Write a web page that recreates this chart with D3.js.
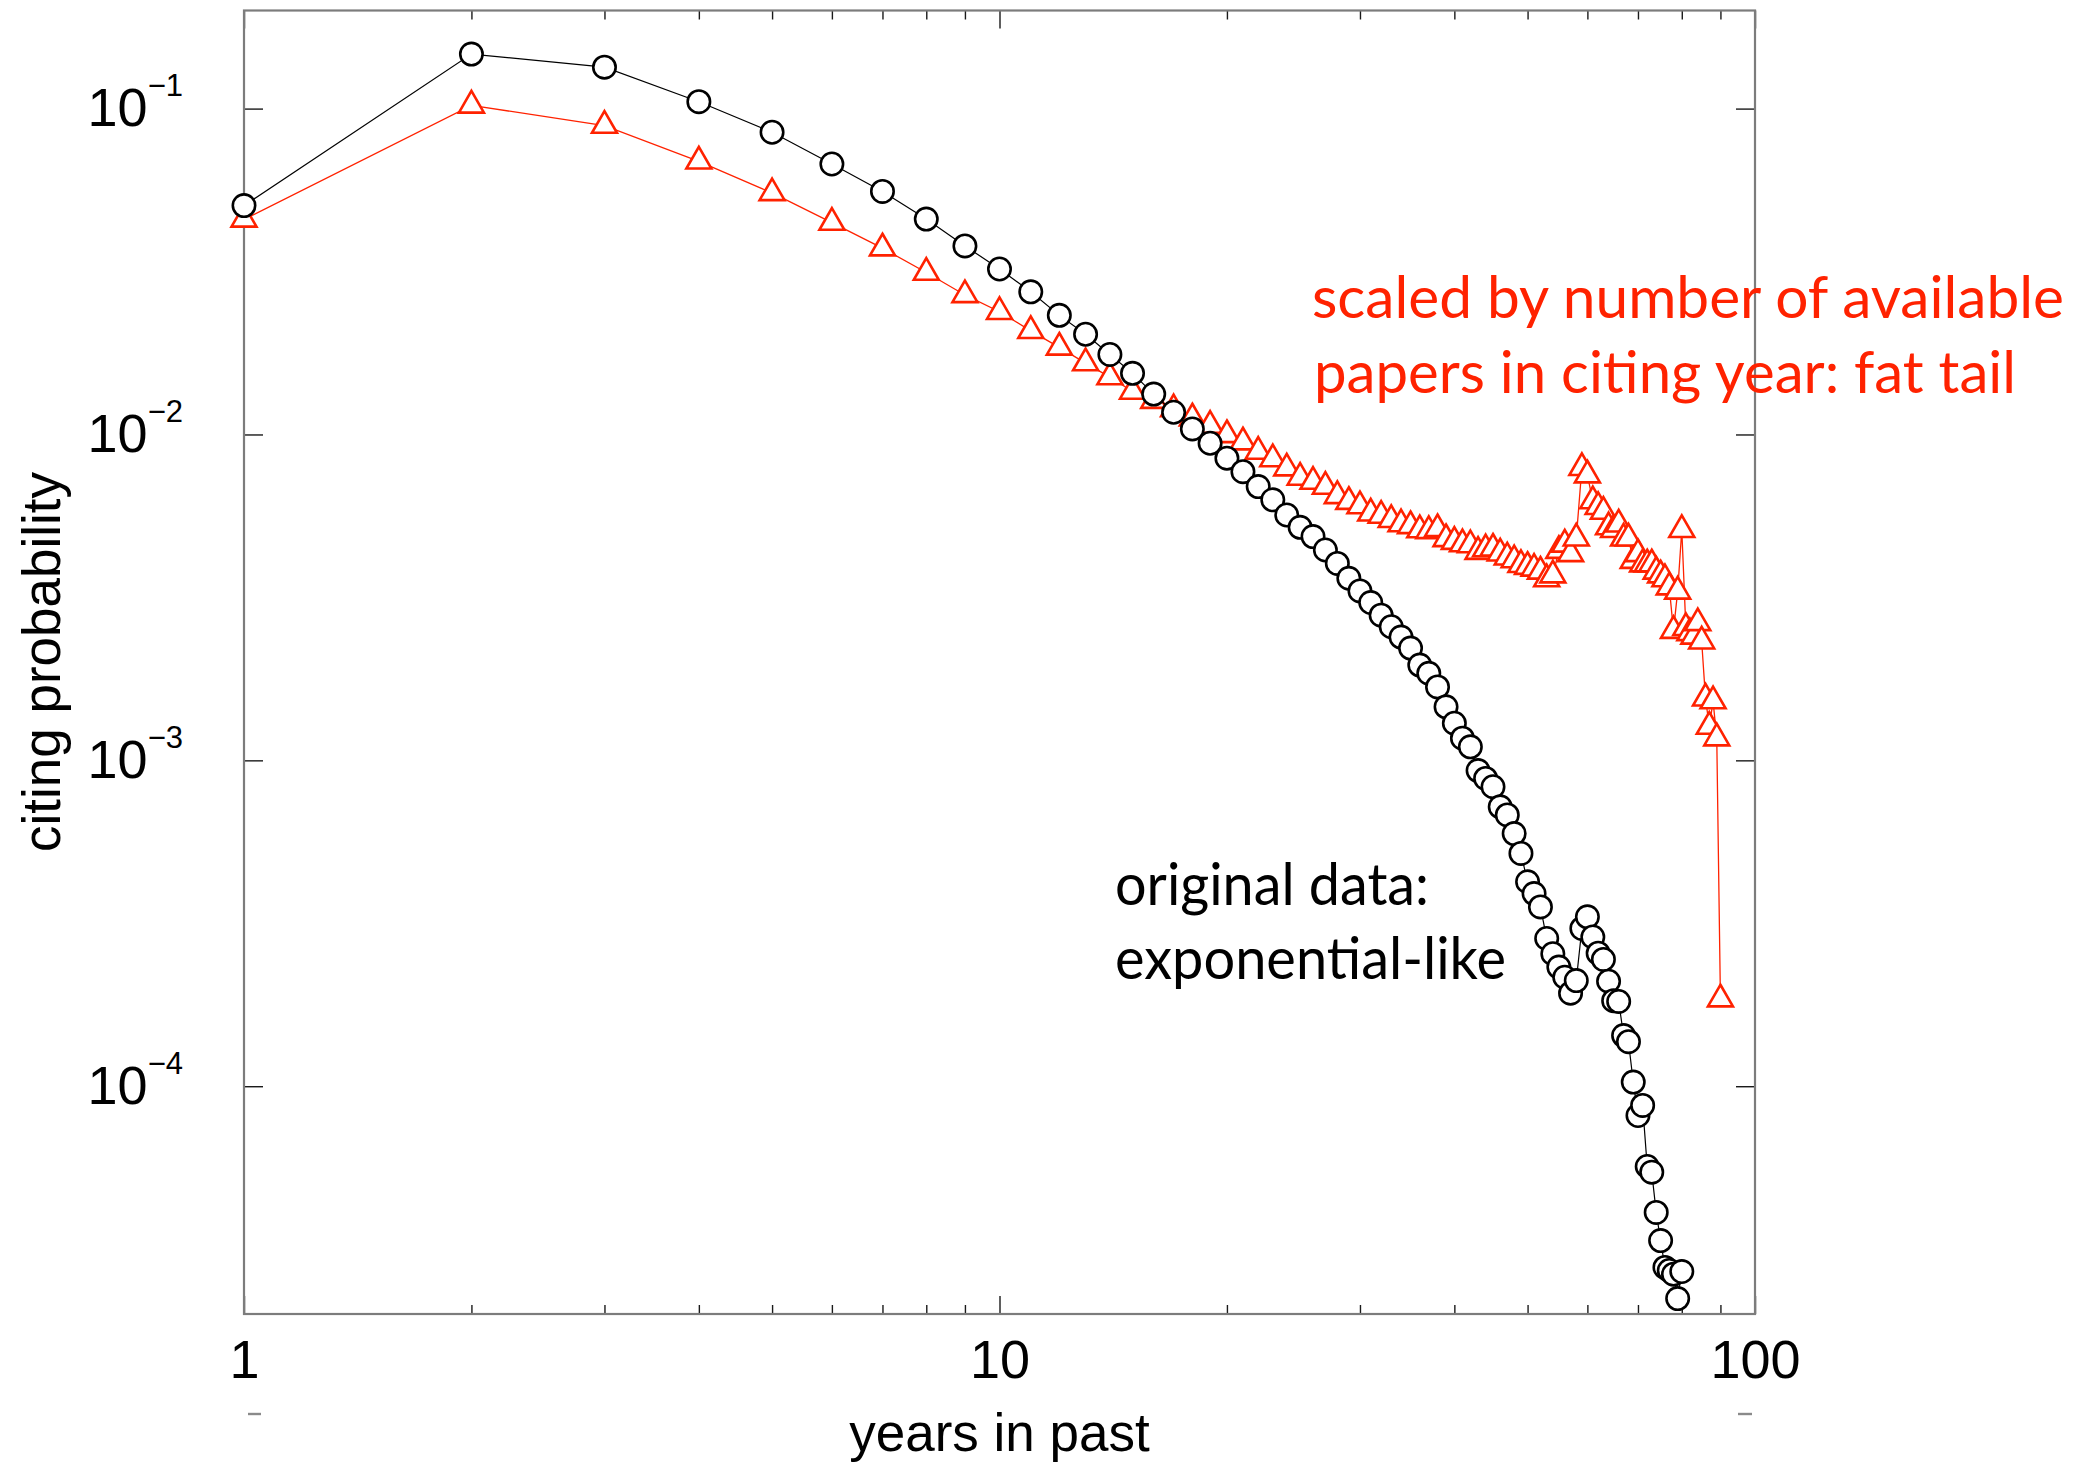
<!DOCTYPE html>
<html>
<head>
<meta charset="utf-8">
<script src="https://cdn.jsdelivr.net/npm/d3@7"></script>
<style>
  html, body { margin: 0; padding: 0; background: #ffffff; }
  svg { display: block; }
</style>
</head>
<body>
<svg id="chart" width="2088" height="1465"></svg>
<script>
// Citation age distribution: probability that a citation points to a paper N years in the past.
const originalYears = [1,2,3,4,5,6,7,8,9,10,11,12,13,14,15,16,17,18,19,20,21,22,23,24,25,26,27,28,29,30,
  31,32,33,34,35,36,37,38,39,40,41,42,43,44,45,46,47,48,49,50,51,52,53,54,55,56,57,58,59,60,
  61,62,63,64,65,66,67,68,69,70,71,72,73,74,75,76,77,78,79,80];
const originalProb = [0.0504,0.147,0.134,0.105,0.0846,0.0676,0.0557,0.0458,0.0379,0.0322,
  0.0274,0.0232,0.0203,0.0176,0.0154,0.0133,0.0117,0.0104,0.0094,0.00846,
  0.00769,0.00692,0.0063,0.00566,0.00519,0.00486,0.00442,0.00402,0.00362,0.00331,
  0.00305,0.00279,0.00257,0.00239,0.00221,0.00196,0.00185,0.00168,0.00146,0.0013,
  0.00117,0.0011,0.00093,0.00088,0.00083,0.00072,0.00068,0.000596,0.000518,0.000424,
  0.00039,0.000355,0.000284,0.000255,0.000232,0.000216,0.000193,0.000211,0.000305,0.000331,
  0.000287,0.000256,0.000245,0.00021,0.000183,0.000182,0.000143,0.000137,0.000103,0.0000813,
  0.0000873,0.0000567,0.0000545,0.000041,0.0000336,0.0000278,0.0000272,0.0000265,0.0000223,0.000027];

const scaledYears = [1,2,3,4,5,6,7,8,9,10,11,12,13,14,15,16,17,18,19,20,21,22,23,24,25,26,27,28,29,30,
  31,32,33,34,35,36,37,38,39,40,41,42,43,44,45,46,47,48,49,50,51,52,53,54,55,56,57,58,59,60,
  61,62,63,64,65,66,67,68,69,70,71,72,73,74,75,76,77,78,79,80,81,82,83,84,85,86,87,88,89,90];
const scaledProb = [0.0457,0.1023,0.0887,0.0689,0.0551,0.0447,0.0373,0.0314,0.0268,0.0238,
  0.0208,0.0185,0.01656,0.015,0.01355,0.0127,0.01197,0.01122,0.01065,0.00997,
  0.00947,0.00886,0.00841,0.00788,0.00738,0.00717,0.00692,0.00648,0.00622,0.00603,
  0.00573,0.00564,0.00547,0.00531,0.00524,0.00509,0.00506,0.00513,0.00478,0.00469,
  0.00461,0.00458,0.00437,0.00445,0.00447,0.00432,0.0042,0.00412,0.00398,0.00393,
  0.00388,0.0038,0.0036,0.0037,0.0044,0.0046,0.0043,0.0048,0.0079,0.0075,
  0.00625,0.006,0.0058,0.0052,0.0051,0.0053,0.0048,0.0048,0.0041,0.0043,
  0.004,0.004,0.004,0.0038,0.0037,0.0036,0.0034,0.0025,0.0033,0.0051,
  0.00255,0.00246,0.0024,0.00264,0.00232,0.00155,0.00127,0.00152,0.00117,0.000185];

const xTickMajor = [1, 10, 100];
const xTickMinor = [2,3,4,5,6,7,8,9,20,30,40,50,60,70,80,90];
const yTickMajor = [1e-4, 1e-3, 1e-2, 1e-1];
const yTickExponent = {"0.0001": "\u22124", "0.001": "\u22123", "0.01": "\u22122", "0.1": "\u22121"};

const xTitle = "years in past";
const yTitle = "citing probability";
const scaledNote = ["scaled by number of available", "papers in citing year: fat tail"];
const originalNote = ["original data:", "exponential-like"];

const RED = "#ff2200";
const FRAME = "#7c7c7c";
const TICK = "#1a1a1a";
const AXIS_FONT = "'Liberation Sans', Arial, Helvetica, sans-serif";
const NOTE_FONT = "Lato, 'Open Sans', sans-serif";

const plot = { left: 244, right: 1755, top: 10.5, bottom: 1314 };

const svg = d3.select("#chart");
svg.append("rect").attr("width", 2088).attr("height", 1465).attr("fill", "#ffffff");

const x = d3.scaleLog().domain([1, 100]).range([plot.left, plot.right]);
const y = d3.scaleLog().domain([2e-5, 0.2]).range([plot.bottom, plot.top]);

// tick marks on all four sides, pointing into the plot
function styleAxis(g) {
  g.select(".domain").remove();
  g.selectAll(".tick line").attr("stroke", TICK).attr("stroke-width", 1.4);
  g.selectAll(".tick text")
    .attr("fill", "#000")
    .attr("font-family", AXIS_FONT)
    .attr("font-size", 54);
}

svg.append("g").attr("transform", `translate(0,${plot.bottom})`)
  .call(d3.axisBottom(x).tickValues(xTickMinor).tickSizeInner(-9).tickSizeOuter(0).tickFormat(""))
  .call(styleAxis);
svg.append("g").attr("transform", `translate(0,${plot.bottom})`)
  .call(d3.axisBottom(x).tickValues(xTickMajor).tickSizeInner(-18).tickSizeOuter(0)
    .tickPadding(26).tickFormat(d3.format("d")))
  .call(styleAxis);
svg.append("g").attr("transform", `translate(0,${plot.top})`)
  .call(d3.axisTop(x).tickValues(xTickMinor).tickSizeInner(-9).tickSizeOuter(0).tickFormat(""))
  .call(styleAxis);
svg.append("g").attr("transform", `translate(0,${plot.top})`)
  .call(d3.axisTop(x).tickValues(xTickMajor).tickSizeInner(-18).tickSizeOuter(0).tickFormat(""))
  .call(styleAxis);

const yLeft = svg.append("g").attr("transform", `translate(${plot.left},0)`)
  .call(d3.axisLeft(y).tickValues(yTickMajor).tickSizeInner(-19).tickSizeOuter(0).tickPadding(61))
  .call(styleAxis);
// powers of ten with superscript exponent
yLeft.selectAll(".tick text").each(function(d) {
  const t = d3.select(this);
  t.text(null);
  t.append("tspan").text("10");
  t.append("tspan").attr("dy", -30.5).attr("font-size", 31).text(yTickExponent[String(d)]);
});

svg.append("g").attr("transform", `translate(${plot.right},0)`)
  .call(d3.axisRight(y).tickValues(yTickMajor).tickSizeInner(-19).tickSizeOuter(0).tickFormat(""))
  .call(styleAxis);

// frame
svg.append("rect")
  .attr("x", plot.left).attr("y", plot.top)
  .attr("width", plot.right - plot.left).attr("height", plot.bottom - plot.top)
  .attr("fill", "none").attr("stroke", FRAME).attr("stroke-width", 2.2);

// small marks below the tick labels
svg.append("g").selectAll("line")
  .data([[x(1) + 4, x(1) + 17], [x(100) - 17, x(100) - 3]])
  .join("line")
  .attr("x1", d => d[0]).attr("x2", d => d[1])
  .attr("y1", 1414).attr("y2", 1414)
  .attr("stroke", "#8a8a8a").attr("stroke-width", 2.4);

// axis titles
svg.append("text")
  .attr("x", x(10)).attr("y", 1451)
  .attr("text-anchor", "middle")
  .attr("font-family", AXIS_FONT).attr("font-size", 53).attr("fill", "#000")
  .text(xTitle);
svg.append("text")
  .attr("transform", "translate(60,662) rotate(-90)")
  .attr("text-anchor", "middle")
  .attr("font-family", AXIS_FONT).attr("font-size", 53).attr("fill", "#000")
  .text(yTitle);

// series
const scaled = scaledYears.map((yr, i) => ({ year: yr, p: scaledProb[i] }));
const original = originalYears.map((yr, i) => ({ year: yr, p: originalProb[i] }));
const line = d3.line().x(d => x(d.year)).y(d => y(d.p));

svg.append("path").datum(scaled)
  .attr("d", line).attr("fill", "none").attr("stroke", RED).attr("stroke-width", 1.3);
const tri = d3.symbol(d3.symbolTriangle, 270);
svg.append("g").selectAll("path").data(scaled).join("path")
  .attr("transform", d => `translate(${x(d.year)},${y(d.p)})`)
  .attr("d", tri)
  .attr("fill", "#ffffff").attr("stroke", RED).attr("stroke-width", 2.6)
  .attr("stroke-linejoin", "miter");

svg.append("path").datum(original)
  .attr("d", line).attr("fill", "none").attr("stroke", "#000").attr("stroke-width", 1.2);
svg.append("g").selectAll("circle").data(original).join("circle")
  .attr("cx", d => x(d.year)).attr("cy", d => y(d.p)).attr("r", 11.2)
  .attr("fill", "#ffffff").attr("stroke", "#000").attr("stroke-width", 2.6);

// annotations
function note(lines, x0, baselines, widths, color) {
  lines.forEach((txt, i) => {
    svg.append("text")
      .attr("x", x0[i]).attr("y", baselines[i])
      .attr("font-family", NOTE_FONT).attr("font-size", 59).attr("fill", color)
      .attr("textLength", widths[i]).attr("lengthAdjust", "spacingAndGlyphs")
      .text(txt);
  });
}
note(scaledNote, [1312, 1314], [318, 393], [752, 702], RED);
note(originalNote, [1115, 1115], [905, 979], [314, 391], "#000");
</script>
</body>
</html>
